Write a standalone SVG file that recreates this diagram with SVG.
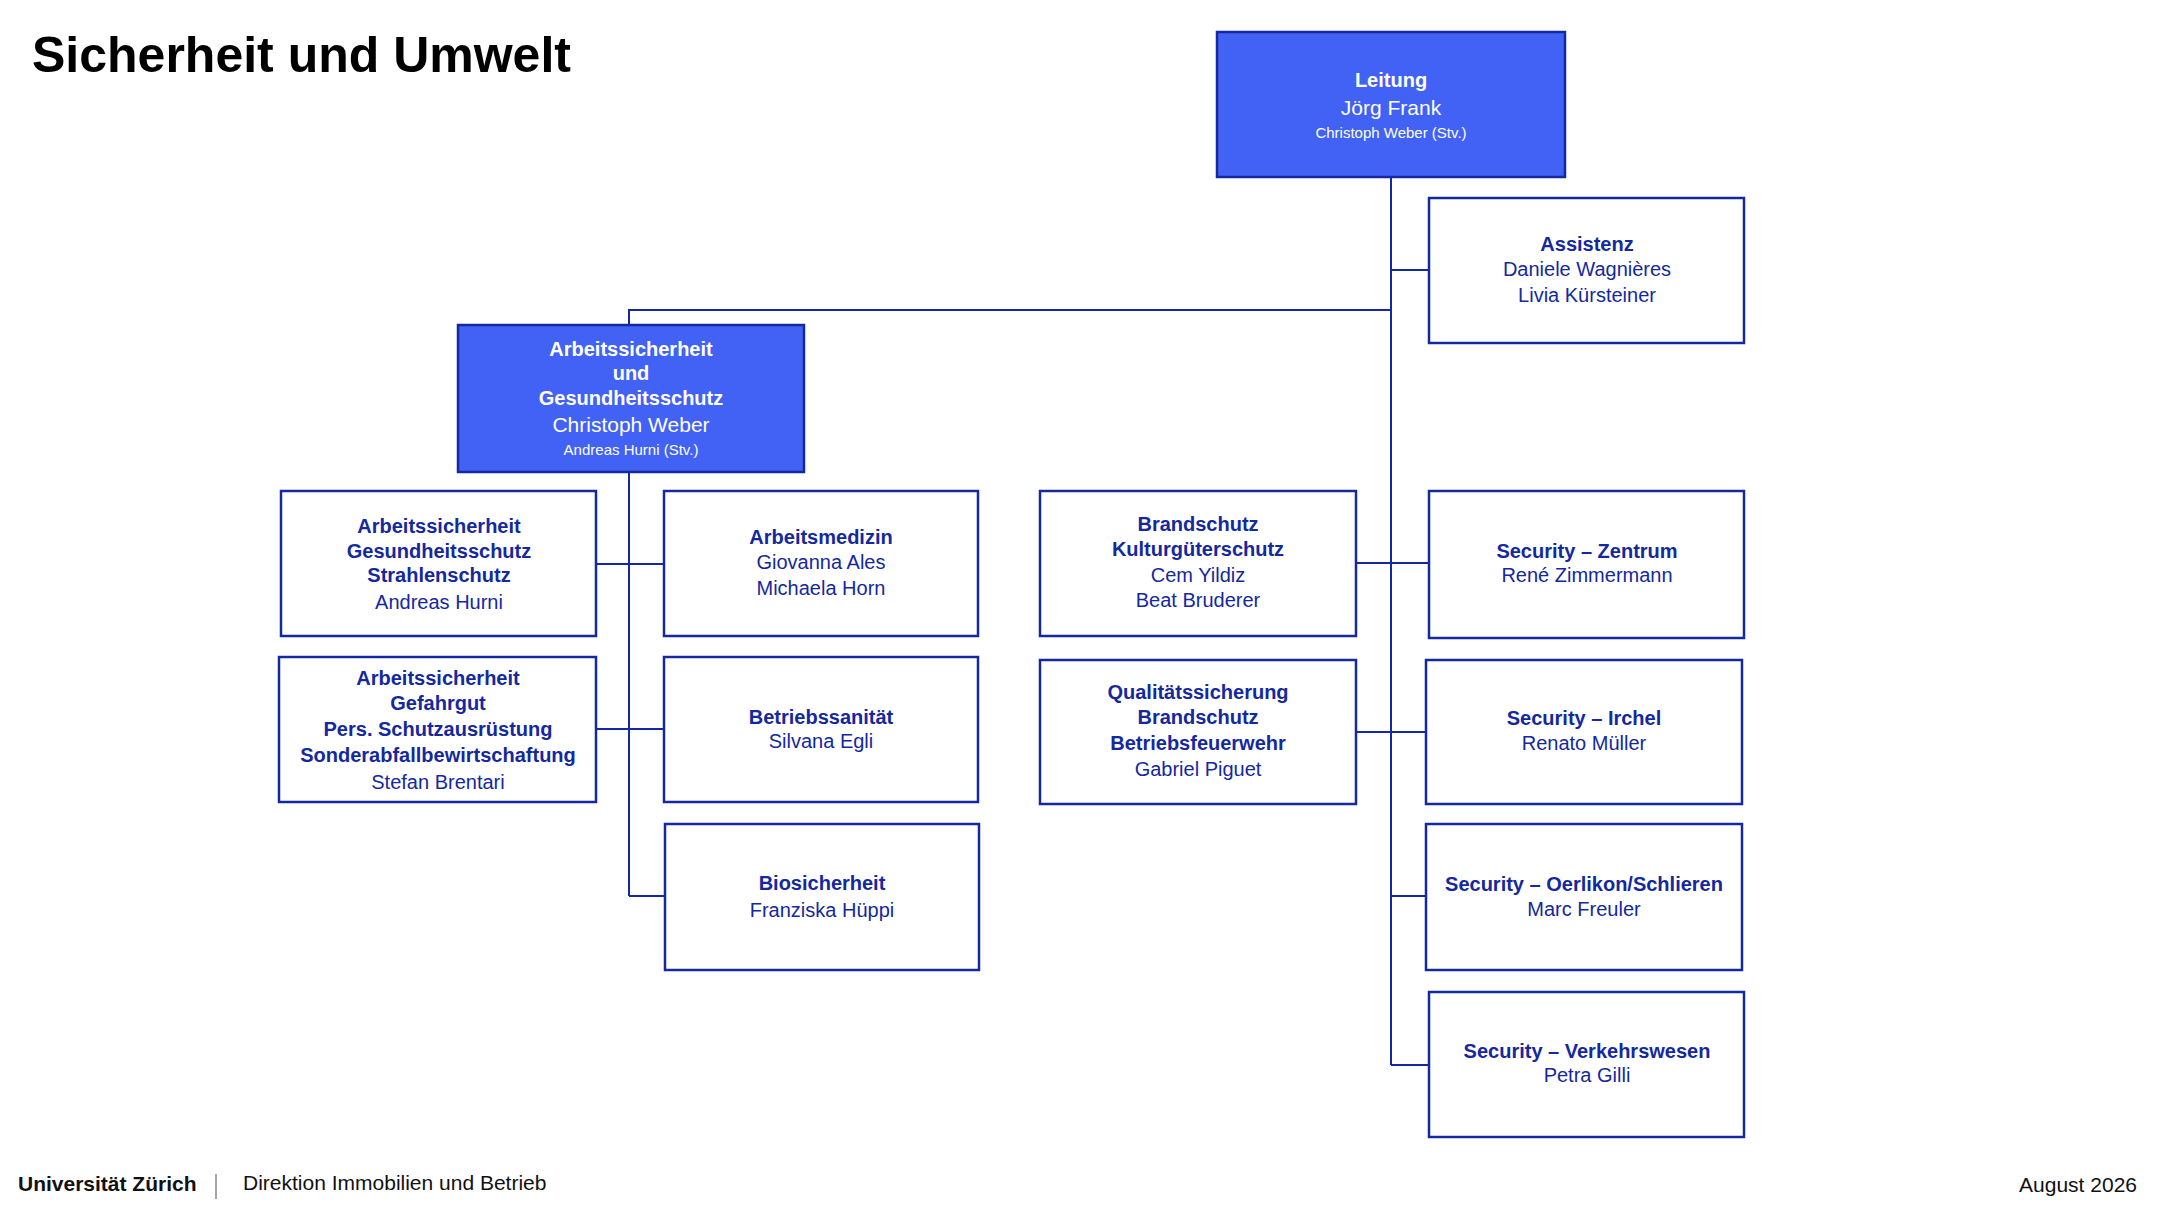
<svg xmlns="http://www.w3.org/2000/svg" width="2158" height="1226" viewBox="0 0 2158 1226">
<style>
text{font-family:"Liberation Sans",Arial,sans-serif;text-anchor:middle}
.box{fill:#fff;stroke:#1428a0;stroke-width:2.5}
.hbox{fill:#4162f5;stroke:#1428a0;stroke-width:2.5}
.b{font-weight:bold;font-size:20px;fill:#1428a0}
.n{font-size:20px;fill:#1428a0}
.hb{font-weight:bold;font-size:20px;fill:#fff}
.hn{font-size:21px;fill:#fff}
.hs{font-size:15px;fill:#fff}
.c{stroke:#1428a0;stroke-width:2;fill:none}
.f{font-size:21px;fill:#111;text-anchor:start}
</style>
<text x="32" y="72" style="font-weight:bold;font-size:50px;fill:#000;text-anchor:start">Sicherheit und Umwelt</text>
<g id="connectors">
<path class="c" d="M1391 177V1065M1391 270H1429M1391 310H629V325M629 472V896M596 564H664M596 729H664M629 896H665M1356 563H1429M1356 732H1426M1391 896H1426M1391 1065H1429"/>
</g>
<g id="leitung"><rect class="hbox" x="1217" y="32" width="348" height="145"/>
<text class="hb" x="1391" y="87">Leitung</text><text class="hn" x="1391" y="115">Jörg Frank</text><text class="hs" x="1391" y="138">Christoph Weber (Stv.)</text></g>
<g id="assistenz"><rect class="box" x="1429" y="198" width="315" height="145"/>
<text class="b" x="1587" y="251">Assistenz</text><text class="n" x="1587" y="276">Daniele Wagnières</text><text class="n" x="1587" y="302">Livia Kürsteiner</text></g>
<g id="ag"><rect class="hbox" x="458" y="325" width="346" height="147"/>
<text class="hb" x="631" y="356">Arbeitssicherheit</text><text class="hb" x="631" y="380">und</text><text class="hb" x="631" y="405">Gesundheitsschutz</text><text class="hn" x="631" y="432">Christoph Weber</text><text class="hs" x="631" y="455">Andreas Hurni (Stv.)</text></g>
<g id="as1"><rect class="box" x="281" y="491" width="315" height="145"/>
<text class="b" x="439" y="533">Arbeitssicherheit</text><text class="b" x="439" y="558">Gesundheitsschutz</text><text class="b" x="439" y="582">Strahlenschutz</text><text class="n" x="439" y="609">Andreas Hurni</text></g>
<g id="as2"><rect class="box" x="279" y="657" width="317" height="145"/>
<text class="b" x="438" y="685">Arbeitssicherheit</text><text class="b" x="438" y="710">Gefahrgut</text><text class="b" x="438" y="736">Pers. Schutzausrüstung</text><text class="b" x="438" y="762">Sonderabfallbewirtschaftung</text><text class="n" x="438" y="789">Stefan Brentari</text></g>
<g id="medizin"><rect class="box" x="664" y="491" width="314" height="145"/>
<text class="b" x="821" y="544">Arbeitsmedizin</text><text class="n" x="821" y="569">Giovanna Ales</text><text class="n" x="821" y="595">Michaela Horn</text></g>
<g id="sanitaet"><rect class="box" x="664" y="657" width="314" height="145"/>
<text class="b" x="821" y="724">Betriebssanität</text><text class="n" x="821" y="748">Silvana Egli</text></g>
<g id="bio"><rect class="box" x="665" y="824" width="314" height="146"/>
<text class="b" x="822" y="890">Biosicherheit</text><text class="n" x="822" y="917">Franziska Hüppi</text></g>
<g id="brand"><rect class="box" x="1040" y="491" width="316" height="145"/>
<text class="b" x="1198" y="531">Brandschutz</text><text class="b" x="1198" y="556">Kulturgüterschutz</text><text class="n" x="1198" y="582">Cem Yildiz</text><text class="n" x="1198" y="607">Beat Bruderer</text></g>
<g id="qs"><rect class="box" x="1040" y="660" width="316" height="144"/>
<text class="b" x="1198" y="699">Qualitätssicherung</text><text class="b" x="1198" y="724">Brandschutz</text><text class="b" x="1198" y="750">Betriebsfeuerwehr</text><text class="n" x="1198" y="776">Gabriel Piguet</text></g>
<g id="zentrum"><rect class="box" x="1429" y="491" width="315" height="147"/>
<text class="b" x="1587" y="558">Security – Zentrum</text><text class="n" x="1587" y="582">René Zimmermann</text></g>
<g id="irchel"><rect class="box" x="1426" y="660" width="316" height="144"/>
<text class="b" x="1584" y="725">Security – Irchel</text><text class="n" x="1584" y="750">Renato Müller</text></g>
<g id="oerlikon"><rect class="box" x="1426" y="824" width="316" height="146"/>
<text class="b" x="1584" y="891">Security – Oerlikon/Schlieren</text><text class="n" x="1584" y="916">Marc Freuler</text></g>
<g id="verkehr"><rect class="box" x="1429" y="992" width="315" height="145"/>
<text class="b" x="1587" y="1058">Security – Verkehrswesen</text><text class="n" x="1587" y="1082">Petra Gilli</text></g>
<text class="f" x="18" y="1191" style="font-weight:bold">Universität Zürich</text>
<line x1="216" y1="1174" x2="216" y2="1199" stroke="#888" stroke-width="1.5"/>
<text class="f" x="243" y="1190">Direktion Immobilien und Betrieb</text>
<text class="f" x="2137" y="1192" style="text-anchor:end">August 2026</text>
</svg>
